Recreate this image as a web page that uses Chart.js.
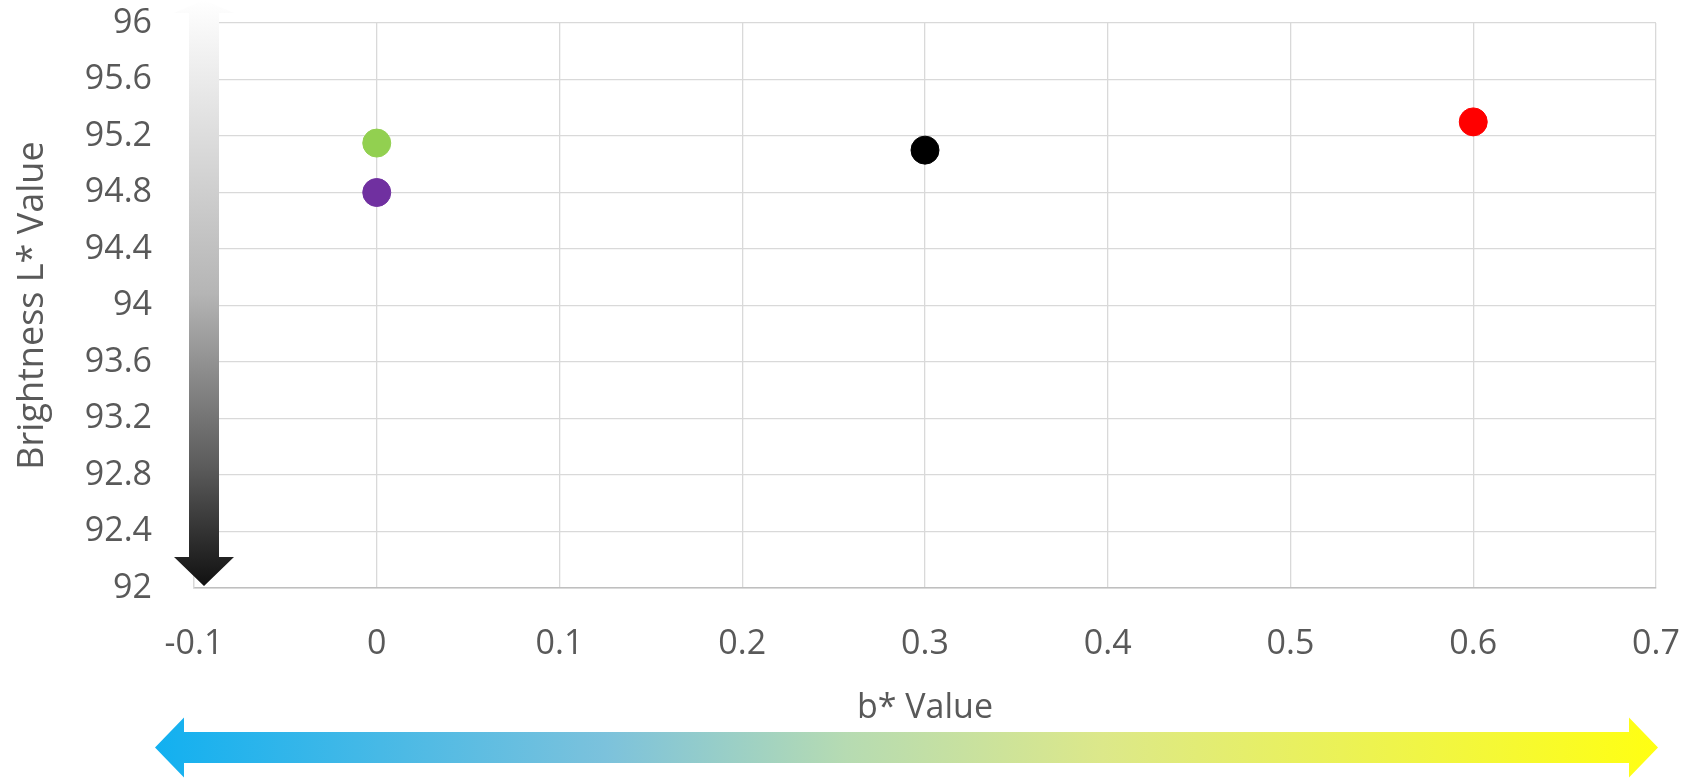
<!DOCTYPE html>
<html>
<head>
<meta charset="utf-8">
<script src="https://cdn.jsdelivr.net/npm/chart.js@4.4.1/dist/chart.umd.min.js"></script>
<style>
  html, body { margin: 0; padding: 0; background: #fff; }
  #wrap { width: 1688px; height: 778px; }
</style>
</head>
<body>
<div id="wrap"><canvas id="chart" width="1688" height="778"></canvas></div>
<script>
// samples: b* value vs brightness L*
const bValues   = [0, 0, 0.3, 0.6];
const lValues   = [95.15, 94.8, 95.1, 95.3];
const dotColors = ["#92d050", "#7030a0", "#000000", "#ff0000"];

const xTicks = [-0.1, 0, 0.1, 0.2, 0.3, 0.4, 0.5, 0.6, 0.7];
const yTicks = [92, 92.4, 92.8, 93.2, 93.6, 94, 94.4, 94.8, 95.2, 95.6, 96];

const FONT = "'Open Sans', 'Noto Sans', sans-serif";
const TXT  = "#595959";

// double-headed gradient arrows drawn behind the points
const arrowPlugin = {
  id: "arrows",
  beforeDatasetsDraw(chart) {
    const { ctx, chartArea: a } = chart;
    ctx.save();

    // vertical: white (top) -> black (bottom)
    const cx = a.left + 10, half = 15, headHalf = 30;
    const top = 0, topBase = 13, botBase = a.bottom - 31, tip = a.bottom - 2;
    let g = ctx.createLinearGradient(0, top, 0, tip);
    g.addColorStop(0, "#ffffff");
    g.addColorStop(0.5, "#b5b5b5");
    g.addColorStop(0.8, "#5a5a5a");
    g.addColorStop(1, "#111111");
    ctx.fillStyle = g;
    ctx.beginPath();
    ctx.moveTo(cx, top);
    ctx.lineTo(cx + headHalf, topBase);
    ctx.lineTo(cx + half, topBase);
    ctx.lineTo(cx + half, botBase);
    ctx.lineTo(cx + headHalf, botBase);
    ctx.lineTo(cx, tip);
    ctx.lineTo(cx - headHalf, botBase);
    ctx.lineTo(cx - half, botBase);
    ctx.lineTo(cx - half, topBase);
    ctx.lineTo(cx - headHalf, topBase);
    ctx.closePath();
    ctx.fill();

    // horizontal: blue (left) -> yellow (right)
    const cy = 747.5, hh = 15.5, hHead = 30;
    const lTip = a.left - 39, lBase = a.left - 10;
    const rTip = a.right + 2, rBase = a.right - 27;
    g = ctx.createLinearGradient(lTip, 0, rTip, 0);
    g.addColorStop(0, "#12b0f0");
    g.addColorStop(0.3, "#7cc2dc");
    g.addColorStop(0.46, "#b6dbb2");
    g.addColorStop(0.63, "#dce88a");
    g.addColorStop(1, "#ffff12");
    ctx.fillStyle = g;
    ctx.beginPath();
    ctx.moveTo(lTip, cy);
    ctx.lineTo(lBase, cy - hHead);
    ctx.lineTo(lBase, cy - hh);
    ctx.lineTo(rBase, cy - hh);
    ctx.lineTo(rBase, cy - hHead);
    ctx.lineTo(rTip, cy);
    ctx.lineTo(rBase, cy + hHead);
    ctx.lineTo(rBase, cy + hh);
    ctx.lineTo(lBase, cy + hh);
    ctx.lineTo(lBase, cy + hHead);
    ctx.closePath();
    ctx.fill();

    ctx.restore();
  }
};

new Chart(document.getElementById("chart"), {
  type: "scatter",
  data: {
    datasets: [{
      data: bValues.map((b, i) => ({ x: b, y: lValues[i] })),
      backgroundColor: dotColors,
      borderColor: dotColors,
      pointRadius: 14,
      pointHoverRadius: 14
    }]
  },
  options: {
    responsive: false,
    animation: false,
    layout: { padding: { left: 11, top: 23, right: 32, bottom: 49 } },
    plugins: { legend: { display: false }, tooltip: { enabled: false } },
    scales: {
      x: {
        type: "linear",
        min: -0.1, max: 0.7,
        afterBuildTicks: s => { s.ticks = xTicks.map(v => ({ value: v })); },
        afterFit: s => { s.height = 141; s.paddingLeft = 0; s.paddingRight = 0; },
        grid: { color: "#d9d9d9", lineWidth: 1.3, drawTicks: false },
        border: { color: "#bfbfbf", width: 1.5 },
        ticks: {
          color: TXT, padding: 36,
          font: { family: FONT, size: 34 },
          callback: v => String(Math.round(v * 10) / 10)
        },
        title: {
          display: true, text: "b* Value", color: TXT, padding: 0,
          font: { family: FONT, size: 34 }
        }
      },
      y: {
        type: "linear",
        min: 92, max: 96,
        afterBuildTicks: s => { s.ticks = yTicks.map(v => ({ value: v })); },
        afterFit: s => { s.width = 183; s.paddingTop = 0; s.paddingBottom = 0; },
        grid: { color: "#d9d9d9", lineWidth: 1.3, drawTicks: false },
        border: { color: "#d9d9d9", width: 1.3 },
        ticks: {
          color: TXT, padding: 42,
          font: { family: FONT, size: 34 },
          callback: v => String(Math.round(v * 10) / 10)
        },
        title: {
          display: true, text: "Brightness L* Value", color: TXT, padding: 0,
          font: { family: FONT, size: 36 }
        }
      }
    }
  },
  plugins: [arrowPlugin]
});
</script>
</body>
</html>
